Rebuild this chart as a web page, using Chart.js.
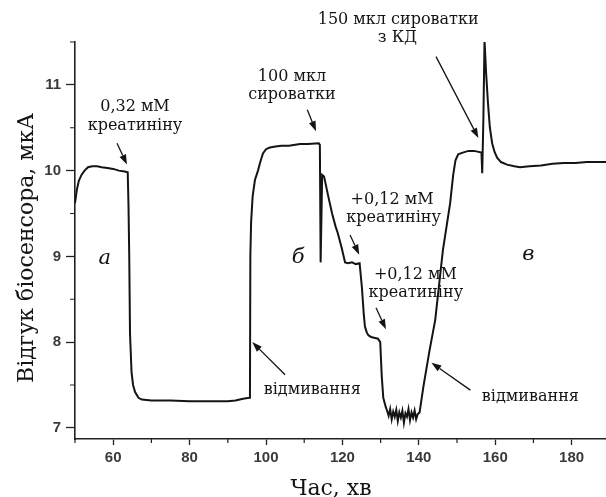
<!DOCTYPE html>
<html>
<head>
<meta charset="utf-8">
<script src="https://cdn.jsdelivr.net/npm/chart.js@4.4.1/dist/chart.umd.min.js"></script>
<style>
html,body{margin:0;padding:0;background:#fff;}
canvas{display:block;}
</style>
</head>
<body>
<canvas id="c" width="606" height="497"></canvas>
<script>
// ---- data ----
const timeMin = [
 50.0,50.5,51.0,51.7,52.5,53.4,54.5,55.8,57.0,58.5,60.0,61.5,63.0,63.8,
 64.0,64.2,64.4,64.8,65.2,65.7,66.6,67.5,70,75,80,85,90,92,94,95.6,
 95.8,95.9,96.1,96.5,97.1,97.9,98.5,99.2,100.0,101.0,102.5,104,106,108.9,111,113.8,
 114.1,114.3,114.7,115.2,116.2,117.3,118.2,118.8,119.8,120.7,121.5,122.5,123.5,124.5,
 125.1,125.6,125.9,126.4,126.8,127.5,128.3,129.3,129.9,130.3,130.7,131.3,131.7,
 132.1,132.5,132.9,133.3,133.7,134.1,134.5,134.9,135.3,135.7,136.1,136.5,136.9,137.3,137.7,138.1,138.5,138.9,139.3,139.7,
 140.2,141.2,142.8,144.3,146.3,148.2,149.0,149.6,150.3,151.5,153.0,154.5,156.4,
 156.6,156.9,157.2,157.6,158.1,158.6,159.2,159.8,160.5,161.5,163.1,165,166.5,169,172,175,178,181,184,187,189
];
const responseUA = [
 9.62,9.78,9.88,9.95,10.00,10.04,10.05,10.05,10.04,10.03,10.02,10.00,9.99,9.98,
 9.60,9.00,8.10,7.65,7.50,7.42,7.35,7.33,7.32,7.32,7.31,7.31,7.31,7.32,7.34,7.35,
 7.40,9.00,9.40,9.70,9.89,10.00,10.10,10.20,10.25,10.27,10.28,10.29,10.29,10.31,10.31,10.32,
 10.30,8.93,9.95,9.93,9.72,9.50,9.35,9.27,9.10,8.93,8.92,8.93,8.91,8.92,
 8.64,8.32,8.18,8.11,8.08,8.06,8.05,8.04,8.00,7.60,7.35,7.25,7.20,
 7.14,7.22,7.10,7.19,7.13,7.21,7.08,7.18,7.12,7.20,7.06,7.17,7.13,7.22,7.09,7.18,7.12,7.20,7.10,7.16,
 7.18,7.48,7.90,8.26,9.07,9.62,9.95,10.12,10.19,10.21,10.23,10.23,10.21,
 9.97,10.60,11.52,11.15,10.79,10.50,10.32,10.22,10.15,10.10,10.07,10.05,10.04,10.05,10.06,10.08,10.09,10.09,10.10,10.10,10.10
];
const xMajorTicks = [60,80,100,120,140,160,180];
const xMinorTicks = [50,70,90,110,130,150,170];
const yMajorTicks = [7,8,9,10,11];
const yMinorTicks = [7.5,8.5,9.5,10.5,11.5];
const xTitle = 'Час, хв';
const yTitle = 'Відгук біосенсора, мкА';

// annotation texts anchored in data coordinates
const noteTexts = [
 {t:65.7, v:10.74, text:'0,32 мМ'},
 {t:65.7, v:10.52, text:'креатиніну'},
 {t:106.8, v:11.09, text:'100 мкл'},
 {t:106.8, v:10.88, text:'сироватки'},
 {t:134.6, v:11.76, text:'150 мкл сироватки'},
 {t:134.4, v:11.55, text:'з КД'},
 {t:133.0, v:9.66, text:'+0,12 мМ'},
 {t:133.4, v:9.45, text:'креатиніну'},
 {t:139.1, v:8.78, text:'+0,12 мМ'},
 {t:139.2, v:8.57, text:'креатиніну'},
 {t:112.1, v:7.44, text:'відмивання'},
 {t:169.2, v:7.36, text:'відмивання'}
];
const panelLetters = [
 {t:57.8, v:8.98, text:'а'},
 {t:108.4, v:8.99, text:'б'},
 {t:168.7, v:9.02, text:'в'}
];
const arrows = [
 {t1:61.0, v1:10.32, t2:63.6, v2:10.07},
 {t1:110.8, v1:10.71, t2:113.1, v2:10.46},
 {t1:144.5, v1:11.33, t2:155.6, v2:10.38},
 {t1:122.0, v1:9.25, t2:124.4, v2:9.02},
 {t1:128.8, v1:8.40, t2:131.4, v2:8.15},
 {t1:105.0, v1:7.62, t2:96.4, v2:8.00},
 {t1:153.5, v1:7.44, t2:143.3, v2:7.76}
];

const INK = '#141414';
const SERIF = '"DejaVu Serif", "Liberation Serif", serif';

const decorPlugin = {
  id: 'decor',
  afterDraw(chart) {
    const ctx = chart.ctx;
    const xs = chart.scales.x, ys = chart.scales.y;
    const area = chart.chartArea;
    ctx.save();
    // minor ticks
    ctx.strokeStyle = '#222';
    ctx.lineWidth = 1.2;
    ctx.beginPath();
    xMinorTicks.forEach(v => {
      const px = xs.getPixelForValue(v);
      ctx.moveTo(px, area.bottom - 1); ctx.lineTo(px, area.bottom + 4);
    });
    yMinorTicks.forEach(v => {
      const py = ys.getPixelForValue(v);
      ctx.moveTo(area.left - 5, py); ctx.lineTo(area.left, py);
    });
    ctx.stroke();

    // annotation texts
    ctx.fillStyle = INK;
    ctx.textAlign = 'center';
    ctx.textBaseline = 'middle';
    ctx.font = '16px ' + SERIF;
    noteTexts.forEach(n => {
      ctx.fillText(n.text, xs.getPixelForValue(n.t), ys.getPixelForValue(n.v));
    });
    ctx.font = 'italic 21px ' + SERIF;
    panelLetters.forEach(n => {
      ctx.fillText(n.text, xs.getPixelForValue(n.t), ys.getPixelForValue(n.v));
    });

    // arrows
    ctx.strokeStyle = INK;
    ctx.lineWidth = 1.3;
    arrows.forEach(a => {
      const x1 = xs.getPixelForValue(a.t1), y1 = ys.getPixelForValue(a.v1);
      const x2 = xs.getPixelForValue(a.t2), y2 = ys.getPixelForValue(a.v2);
      const ang = Math.atan2(y2 - y1, x2 - x1);
      const L = 10, W = 3.5;
      const bx = x2 - L * Math.cos(ang), by = y2 - L * Math.sin(ang);
      ctx.beginPath();
      ctx.moveTo(x1, y1); ctx.lineTo(bx, by);
      ctx.stroke();
      ctx.beginPath();
      ctx.moveTo(x2, y2);
      ctx.lineTo(bx + W * Math.sin(ang), by - W * Math.cos(ang));
      ctx.lineTo(bx - W * Math.sin(ang), by + W * Math.cos(ang));
      ctx.closePath();
      ctx.fill();
    });

    // axis titles
    ctx.font = '22px ' + SERIF;
    ctx.fillStyle = INK;
    ctx.textBaseline = 'alphabetic';
    ctx.fillText(xTitle, 331, 495);
    ctx.translate(33, 248);
    ctx.rotate(-Math.PI / 2);
    ctx.fillText(yTitle, 0, 0);
    ctx.restore();
  }
};

const tickFont = {family: '"Liberation Sans", Arial, sans-serif', size: 15, weight: 'bold'};

new Chart(document.getElementById('c'), {
  type: 'scatter',
  data: {
    datasets: [{
      data: timeMin.map((t, i) => ({x: t, y: responseUA[i]})),
      showLine: true,
      borderColor: INK,
      borderWidth: 2,
      pointRadius: 0,
      tension: 0,
      fill: false
    }]
  },
  options: {
    responsive: false,
    animation: false,
    layout: {padding: {top: 42, left: 0, right: 0, bottom: 0}},
    plugins: {legend: {display: false}, tooltip: {enabled: false}},
    scales: {
      x: {
        type: 'linear', min: 50, max: 189,
        afterBuildTicks: s => { s.ticks = xMajorTicks.map(v => ({value: v})); },
        afterFit: s => { s.height = 58; },
        grid: {drawOnChartArea: false, drawTicks: true, tickLength: 6, tickColor: '#222', tickWidth: 1.3},
        border: {display: true, color: '#222', width: 1.6},
        ticks: {color: '#3a3a3a', padding: 4, font: tickFont}
      },
      y: {
        type: 'linear', min: 6.87, max: 11.5,
        afterBuildTicks: s => { s.ticks = yMajorTicks.map(v => ({value: v})); },
        afterFit: s => { s.width = 75; },
        grid: {drawOnChartArea: false, drawTicks: true, tickLength: 9, tickColor: '#222', tickWidth: 1.3},
        border: {display: true, color: '#222', width: 1.6},
        ticks: {color: '#3a3a3a', padding: 5, font: tickFont}
      }
    }
  },
  plugins: [decorPlugin]
});
</script>
</body>
</html>
